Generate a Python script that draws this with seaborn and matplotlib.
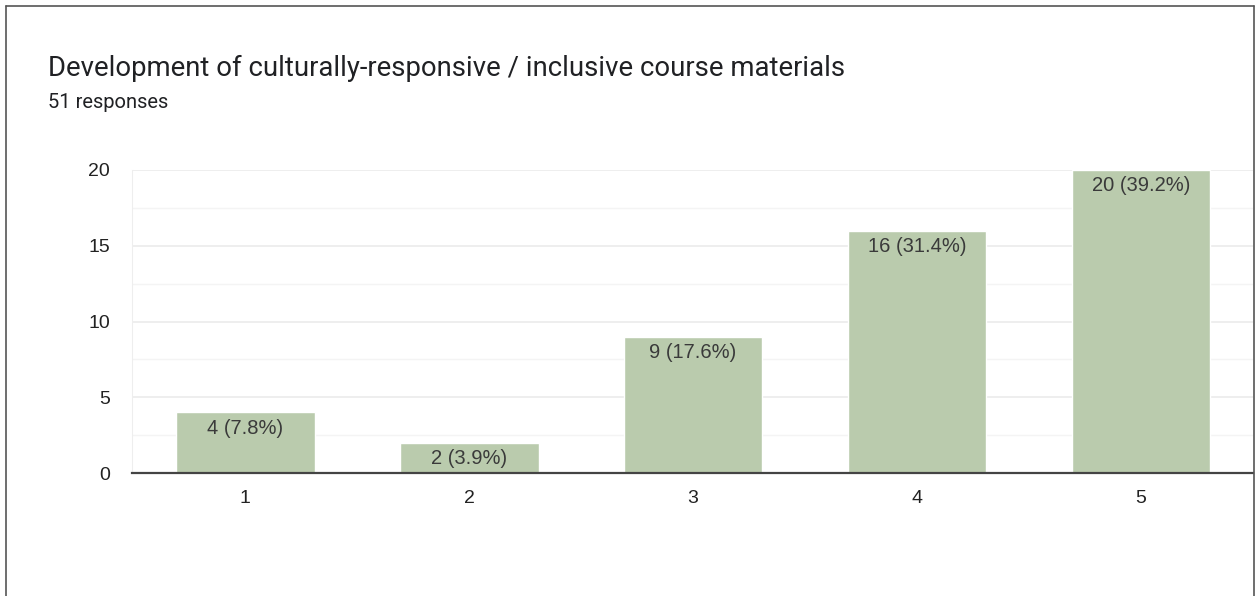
import pandas as pd
import seaborn as sns
import matplotlib.pyplot as plt
from matplotlib.lines import Line2D
from matplotlib.ticker import MultipleLocator

# Survey data
ratings = ['1', '2', '3', '4', '5']
counts = [4, 2, 9, 16, 20]
labels = ['4 (7.8%)', '2 (3.9%)', '9 (17.6%)', '16 (31.4%)', '20 (39.2%)']

df = pd.DataFrame({'Rating': ratings, 'Count': counts})

sns.set_style('white')
plt.rcParams['font.family'] = ['Liberation Sans', 'DejaVu Sans']

fig = plt.figure(figsize=(12.55, 5.96), dpi=100)
ax = fig.add_axes([132 / 1255, 1 - 473 / 596, 1121 / 1255, 303 / 596])

sns.barplot(data=df, x='Rating', y='Count', color='#bacbad', saturation=1,
            width=0.62, ax=ax, zorder=2)

for i, (v, lab) in enumerate(zip(counts, labels)):
    ax.annotate(lab, (i, v), xytext=(0, -11.5), textcoords='offset points',
                ha='center', va='center', fontsize=14.5, color='#3a3a3a', zorder=3)

ax.set_xlim(-0.505, 4.5)
ax.set_ylim(0, 20)
ax.yaxis.set_major_locator(MultipleLocator(5))
ax.yaxis.set_minor_locator(MultipleLocator(2.5))
ax.grid(axis='y', which='major', color='#ebebeb', linewidth=1.2, zorder=0)
ax.grid(axis='y', which='minor', color='#f4f4f4', linewidth=1.0, zorder=0)
ax.set_axisbelow(True)

for s in ['top', 'right']:
    ax.spines[s].set_visible(False)
ax.spines['left'].set_color('#eeeeee')
ax.spines['bottom'].set_color('#444444')
ax.spines['bottom'].set_linewidth(1.6)

ax.tick_params(axis='both', length=0, labelsize=14, labelcolor='#222222')
ax.tick_params(axis='x', pad=12)
ax.tick_params(axis='y', pad=16)
ax.set_xlabel('')
ax.set_ylabel('')

fig.text(48 / 1255, 1 - 68 / 596, 'Development of culturally-responsive / inclusive course materials',
         fontsize=19.8, color='#202124', va='center', ha='left', family='Roboto')
fig.text(48 / 1255, 1 - 102 / 596, '51 responses', fontsize=14.5, color='#202124',
         va='center', ha='left', family='Roboto')

# card border
fig.add_artist(Line2D([6 / 1255, 6 / 1255], [0, 1 - 6 / 596], color='#555555', lw=1.2))
fig.add_artist(Line2D([6 / 1255, 1254 / 1255], [1 - 6 / 596, 1 - 6 / 596], color='#555555', lw=1.2))
fig.add_artist(Line2D([1254 / 1255, 1254 / 1255], [0, 1 - 6 / 596], color='#555555', lw=1.2))

fig.savefig('out.png', dpi=100)
